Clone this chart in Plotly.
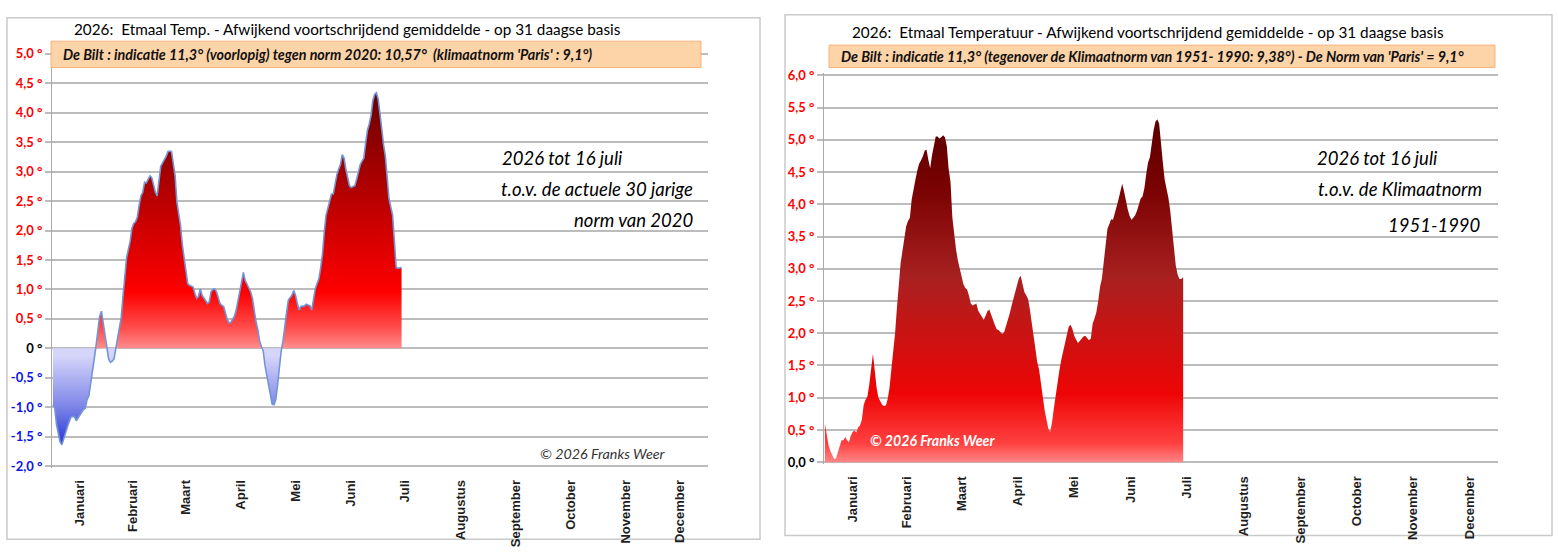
import plotly.graph_objects as go

W, H = 1558, 559  # schermgrootte van de afbeelding

dagen = list(range(1, 196))  # 1 januari t/m half juli
# afwijking t.o.v. de actuele 30-jarige norm van 2020 (graden)
afwijking_2020 = [
    -0.96, -1.00, -1.29, -1.45, -1.59, -1.64, -1.53, -1.44, -1.34, -1.25,
    -1.17, -1.16, -1.16, -1.23, -1.18, -1.12, -1.07, -1.04, -1.02, -0.87,
    -0.81, -0.57, -0.34, -0.18, 0.04, 0.27, 0.54, 0.63, 0.43, 0.16,
    -0.01, -0.18, -0.24, -0.22, -0.18, -0.01, 0.21, 0.38, 0.52, 0.88,
    1.21, 1.54, 1.68, 1.82, 2.04, 2.12, 2.15, 2.23, 2.43, 2.59,
    2.65, 2.82, 2.81, 2.87, 2.93, 2.90, 2.76, 2.65, 2.59, 2.81,
    3.09, 3.15, 3.20, 3.26, 3.34, 3.35, 3.34, 3.15, 2.93, 2.48,
    2.25, 2.09, 1.76, 1.54, 1.37, 1.10, 1.07, 1.06, 1.04, 0.93,
    0.85, 0.88, 1.01, 0.90, 0.86, 0.82, 0.76, 0.79, 0.96, 1.00,
    1.01, 0.96, 0.85, 0.76, 0.73, 0.71, 0.60, 0.49, 0.43, 0.44,
    0.49, 0.54, 0.65, 0.82, 1.01, 1.18, 1.29, 1.15, 1.08, 1.01,
    0.96, 0.85, 0.60, 0.45, 0.32, 0.13, 0.03, -0.04, -0.29, -0.45,
    -0.60, -0.81, -0.95, -0.96, -0.87, -0.62, -0.29, -0.05, 0.12, 0.40,
    0.60, 0.82, 0.86, 0.90, 0.98, 0.90, 0.76, 0.65, 0.71, 0.72,
    0.72, 0.75, 0.74, 0.72, 0.65, 0.82, 1.01, 1.10, 1.18, 1.37,
    1.60, 1.98, 2.26, 2.38, 2.48, 2.62, 2.62, 2.81, 2.95, 3.04,
    3.12, 3.29, 3.23, 3.04, 2.87, 2.76, 2.73, 2.74, 2.76, 2.87,
    3.01, 3.12, 3.18, 3.23, 3.48, 3.70, 3.81, 3.95, 4.20, 4.31,
    4.34, 4.23, 3.98, 3.65, 3.45, 3.26, 2.87, 2.54, 2.40, 2.26,
    1.82, 1.37, 1.36, 1.37, 1.37]
# afwijking t.o.v. de klimaatnorm 1951-1990 (graden)
afwijking_1951 = [
    0.60, 0.42, 0.26, 0.17, 0.11, 0.05, 0.06, 0.16, 0.26, 0.34,
    0.34, 0.39, 0.34, 0.31, 0.41, 0.47, 0.49, 0.46, 0.54, 0.57,
    0.66, 0.89, 0.97, 1.02, 1.20, 1.50, 1.68, 1.42, 1.15, 1.00,
    0.94, 0.89, 0.87, 0.88, 0.98, 1.16, 1.45, 1.72, 2.00, 2.40,
    2.78, 3.09, 3.28, 3.48, 3.66, 3.74, 3.79, 4.08, 4.26, 4.38,
    4.52, 4.63, 4.68, 4.74, 4.83, 4.85, 4.69, 4.56, 4.76, 4.93,
    5.05, 5.05, 5.02, 5.04, 5.07, 5.04, 4.90, 4.55, 4.35, 3.80,
    3.50, 3.30, 3.13, 3.00, 2.86, 2.76, 2.70, 2.68, 2.58, 2.46,
    2.43, 2.45, 2.46, 2.35, 2.30, 2.26, 2.21, 2.27, 2.34, 2.37,
    2.30, 2.20, 2.13, 2.06, 2.05, 2.02, 1.99, 2.01, 2.10, 2.20,
    2.30, 2.42, 2.53, 2.62, 2.77, 2.85, 2.89, 2.78, 2.64, 2.59,
    2.53, 2.37, 2.17, 1.92, 1.70, 1.55, 1.43, 1.20, 1.00, 0.80,
    0.66, 0.52, 0.47, 0.62, 0.84, 1.05, 1.25, 1.43, 1.59, 1.72,
    1.83, 1.98, 2.10, 2.13, 2.07, 1.96, 1.91, 1.85, 1.88, 1.92,
    1.95, 1.96, 1.93, 1.89, 1.92, 2.15, 2.23, 2.33, 2.50, 2.72,
    2.85, 3.10, 3.42, 3.62, 3.69, 3.77, 3.76, 3.85, 3.97, 4.08,
    4.21, 4.32, 4.20, 4.04, 3.92, 3.82, 3.76, 3.79, 3.83, 3.90,
    4.02, 4.09, 4.12, 4.25, 4.47, 4.65, 4.73, 4.95, 5.15, 5.28,
    5.32, 5.25, 5.00, 4.65, 4.38, 4.24, 4.10, 3.90, 3.65, 3.38,
    3.05, 2.91, 2.84, 2.84, 2.87]
maanden = ['Januari', 'Februari', 'Maart', 'April', 'Mei', 'Juni', 'Juli',
           'Augustus', 'September', 'October', 'November', 'December']
maand_midden = [16, 45.5, 75, 105.5, 136, 166.5, 197, 228, 258.5, 289, 319.5, 350]
ticks_links = [-2.0, -1.5, -1.0, -0.5, 0.0, 0.5, 1.0, 1.5, 2.0, 2.5, 3.0, 3.5, 4.0, 4.5, 5.0]
ticks_rechts = [0.0, 0.5, 1.0, 1.5, 2.0, 2.5, 3.0, 3.5, 4.0, 4.5, 5.0, 5.5, 6.0]

FONT = 'Lato, Liberation Sans, sans-serif'
px_x = lambda p: p / W          # pixel -> paper
px_y = lambda p: 1 - p / H

def tick_tekst(v, nul):  # rood boven nul, blauw onder nul, zwart op nul
    if v == 0:
        return f"<b>{nul}</b>"
    kleur = '#ff0000' if v > 0 else '#0a14e6'
    return f"<b><span style='color:{kleur}'>{v:.1f} °</span></b>".replace('.', ',')

fig = go.Figure()
# links: positief rood, negatief blauw
fig.add_trace(go.Scatter(x=dagen, y=[max(v, 0) for v in afwijking_2020], fill='tozeroy', mode='lines',
                         line=dict(width=0), hoverinfo='skip', xaxis='x', yaxis='y',
                         fillgradient=dict(type='vertical', start=0, stop=4.35,
                                           colorscale=[[0, '#ffa4a4'], [0.1, '#ff5050'], [0.24, '#ff0000'],
                                                       [0.6, '#b80000'], [1, '#6a0000']])))
fig.add_trace(go.Scatter(x=dagen, y=[min(v, 0) for v in afwijking_2020], fill='tozeroy', mode='lines',
                         line=dict(width=0), hoverinfo='skip', xaxis='x', yaxis='y',
                         fillgradient=dict(type='vertical', start=-1.65, stop=0,
                                           colorscale=[[0, '#1222d6'], [0.5, '#8088e8'], [1, '#d6d6fa']])))
fig.add_trace(go.Scatter(x=dagen, y=afwijking_2020, mode='lines', line=dict(color='#7395d6', width=1.6),
                         xaxis='x', yaxis='y'))
# rechts: alles boven nul
fig.add_trace(go.Scatter(x=dagen, y=afwijking_1951, fill='tozeroy', mode='lines',
                         line=dict(width=0), hoverinfo='skip', xaxis='x2', yaxis='y2',
                         fillgradient=dict(type='vertical', start=0, stop=5.35,
                                           colorscale=[[0, '#ffa8a8'], [0.08, '#ff4040'], [0.22, '#ee0505'],
                                                       [0.55, '#a82020'], [0.8, '#7a0202'], [1, '#5a0000']])))

as_x = dict(range=[0.5, 365.5], tickvals=maand_midden, ticktext=[f'<b>{m}</b>' for m in maanden], tickangle=-90,
            tickfont=dict(family='Liberation Sans, Arial, sans-serif', size=13, color='#1e1e1e'),
            showgrid=False, zeroline=False, ticks='outside', ticklen=6, tickcolor='rgba(0,0,0,0)')
as_y = dict(showgrid=True, gridcolor='#bcbcbc', gridwidth=2, zeroline=False, showline=True,
            linecolor='#a8a8a8', linewidth=1, ticks='outside', ticklen=6, tickcolor='#bcbcbc',
            tickwidth=2, tickfont=dict(family=FONT, size=13, color='#000000'))
fig.update_layout(
    width=W, height=H, margin=dict(l=0, r=0, t=0, b=0), showlegend=False,
    paper_bgcolor='white', plot_bgcolor='white',
    xaxis=dict(as_x, domain=[px_x(52), px_x(708)], anchor='y'),
    yaxis=dict(as_y, domain=[px_y(471.8), px_y(46.2)], range=[-2.03, 5.03], anchor='x',
               tickvals=ticks_links, ticktext=[tick_tekst(v, '0 °') for v in ticks_links]),
    xaxis2=dict(as_x, domain=[px_x(824), px_x(1498)], anchor='y2'),
    yaxis2=dict(as_y, domain=[px_y(468), px_y(68)], range=[-0.03, 6.03], anchor='x2',
                tickvals=ticks_rechts, ticktext=[tick_tekst(v, '0,0 °') for v in ticks_rechts]),
)

# kaders en oranje balken
for x0, y0, x1, y1 in [(7, 11, 760, 545), (785, 8, 1552, 541)]:
    fig.add_shape(type='rect', xref='paper', yref='paper', x0=px_x(x0), x1=px_x(x1), y0=px_y(y1), y1=px_y(y0),
                  line=dict(color='#cacaca', width=1.5), layer='below')
for x0, y0, x1, y1 in [(51, 35, 701, 62), (829, 39, 1495, 62)]:
    fig.add_shape(type='rect', xref='paper', yref='paper', x0=px_x(x0), x1=px_x(x1), y0=px_y(y1), y1=px_y(y0),
                  line=dict(color='#f6b37c', width=1), fillcolor='#fdd3a8', layer='above')

def tekst(s, x, y, anker='left', size=16, color='#111111'):
    fig.add_annotation(text=s, x=px_x(x), y=px_y(y), xref='paper', yref='paper', xanchor=anker,
                       yanchor='middle', showarrow=False, font=dict(family=FONT, size=size, color=color))

tekst('2026:  Etmaal Temp. - Afwijkend voortschrijdend gemiddelde - op 31 daagse basis', 347, 23, 'center', 15.3, '#000000')
tekst("<b><i>De Bilt : indicatie 11,3° (voorlopig) tegen norm 2020: 10,57°  (klimaatnorm 'Paris' : 9,1°)</i></b>",
      61, 49, 'left', 14.3)
tekst('<i>2026 tot 16 juli</i>', 500, 155, 'left', 18.5, '#000000')
tekst('<i>t.o.v. de actuele 30 jarige</i>', 695, 186, 'right', 18.5, '#000000')
tekst('<i>norm van 2020</i>', 695, 218, 'right', 18.5, '#000000')
tekst('<i>© 2026 Franks Weer</i>', 668, 457, 'right', 14.3, '#333333')

tekst('2026:  Etmaal Temperatuur - Afwijkend voortschrijdend gemiddelde - op 31 daagse basis', 1148, 26, 'center', 15.3, '#000000')
tekst("<b><i>De Bilt : indicatie 11,3° (tegenover de Klimaatnorm van 1951- 1990: 9,38°) - De Norm van 'Paris' = 9,1°</i></b>",
      839, 51, 'left', 14.3)
tekst('<i>2026 tot 16 juli</i>', 1315, 155, 'left', 18.5, '#000000')
tekst('<i>t.o.v. de Klimaatnorm</i>', 1484, 186, 'right', 18.5, '#000000')
tekst('<i>1951-1990</i>', 1483, 223, 'right', 18.5, '#000000')
tekst('<b><i>© 2026 Franks Weer</i></b>', 868, 444, 'left', 14.2, '#ffffff')

# standaard body-marge van de pagina weghalen, geen modebar
fig.write_html("out.html", config={'displayModeBar': False},
               post_script="document.body.style.margin='0';document.body.style.overflow='hidden';")
